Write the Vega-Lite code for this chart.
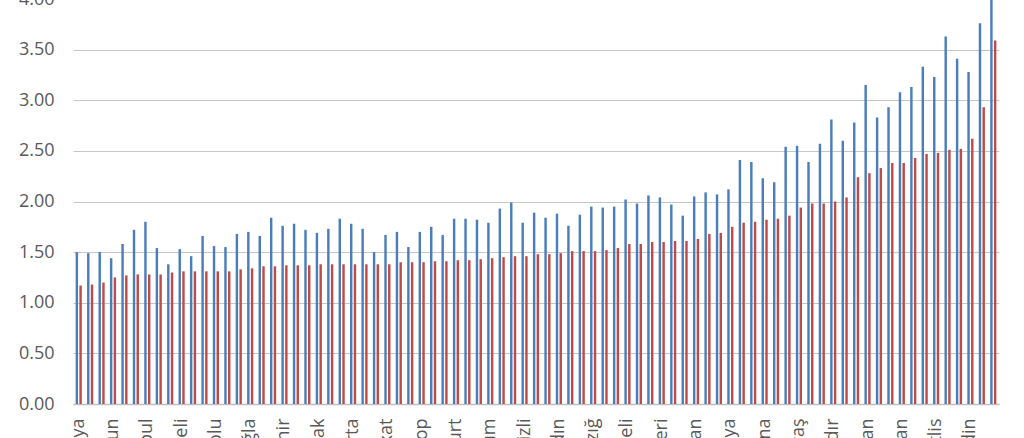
{
  "$schema": "https://vega.github.io/schema/vega-lite/v6.json",
  "autosize": {"type": "none"},
  "padding": {"left": 73, "top": -1, "right": 25, "bottom": 60},
  "width": 926,
  "height": 405,
  "background": "white",
  "config": {"view": {"stroke": null}, "font": "Open Sans"},
  "datasets": {
    "raw": [
      {"il": "Kütahya", "a": 1.50, "b": 1.17},
      {"il": "Bartın", "a": 1.49, "b": 1.18},
      {"il": "Zonguldak", "a": 1.50, "b": 1.20},
      {"il": "Giresun", "a": 1.44, "b": 1.25},
      {"il": "Karabük", "a": 1.58, "b": 1.27},
      {"il": "Edirne", "a": 1.72, "b": 1.28},
      {"il": "İstanbul", "a": 1.80, "b": 1.28},
      {"il": "Çanakkale", "a": 1.54, "b": 1.28},
      {"il": "Ordu", "a": 1.38, "b": 1.30},
      {"il": "Kırklareli", "a": 1.53, "b": 1.31},
      {"il": "Tekirdağ", "a": 1.46, "b": 1.31},
      {"il": "Balıkesir", "a": 1.66, "b": 1.31},
      {"il": "Bolu", "a": 1.56, "b": 1.31},
      {"il": "Amasya", "a": 1.55, "b": 1.31},
      {"il": "Trabzon", "a": 1.68, "b": 1.33},
      {"il": "Muğla", "a": 1.70, "b": 1.34},
      {"il": "Kastamonu", "a": 1.66, "b": 1.36},
      {"il": "Rize", "a": 1.84, "b": 1.36},
      {"il": "Eskişehir", "a": 1.76, "b": 1.37},
      {"il": "Artvin", "a": 1.78, "b": 1.37},
      {"il": "İzmir", "a": 1.72, "b": 1.37},
      {"il": "Uşak", "a": 1.69, "b": 1.38},
      {"il": "Sakarya", "a": 1.73, "b": 1.38},
      {"il": "Yalova", "a": 1.83, "b": 1.38},
      {"il": "Isparta", "a": 1.78, "b": 1.38},
      {"il": "Burdur", "a": 1.73, "b": 1.38},
      {"il": "Manisa", "a": 1.50, "b": 1.38},
      {"il": "Tokat", "a": 1.67, "b": 1.38},
      {"il": "Bilecik", "a": 1.70, "b": 1.40},
      {"il": "Düzce", "a": 1.55, "b": 1.40},
      {"il": "Sinop", "a": 1.70, "b": 1.40},
      {"il": "Samsun", "a": 1.75, "b": 1.41},
      {"il": "Kırşehir", "a": 1.67, "b": 1.41},
      {"il": "Bayburt", "a": 1.83, "b": 1.42},
      {"il": "Nevşehir", "a": 1.83, "b": 1.42},
      {"il": "Bursa", "a": 1.82, "b": 1.43},
      {"il": "Çorum", "a": 1.79, "b": 1.44},
      {"il": "Afyonkarahisar", "a": 1.93, "b": 1.45},
      {"il": "Antalya", "a": 1.99, "b": 1.46},
      {"il": "Denizli", "a": 1.79, "b": 1.46},
      {"il": "Gümüşhane", "a": 1.89, "b": 1.48},
      {"il": "Sivas", "a": 1.84, "b": 1.48},
      {"il": "Aydın", "a": 1.88, "b": 1.49},
      {"il": "Ankara", "a": 1.76, "b": 1.51},
      {"il": "Kırıkkale", "a": 1.87, "b": 1.51},
      {"il": "Elazığ", "a": 1.95, "b": 1.51},
      {"il": "Niğde", "a": 1.94, "b": 1.52},
      {"il": "Aksaray", "a": 1.95, "b": 1.54},
      {"il": "Kocaeli", "a": 2.02, "b": 1.58},
      {"il": "Erzincan", "a": 1.98, "b": 1.58},
      {"il": "Çankırı", "a": 2.06, "b": 1.60},
      {"il": "Kayseri", "a": 2.04, "b": 1.60},
      {"il": "Yozgat", "a": 1.97, "b": 1.61},
      {"il": "Hatay", "a": 1.86, "b": 1.61},
      {"il": "Karaman", "a": 2.05, "b": 1.63},
      {"il": "Mersin", "a": 2.09, "b": 1.68},
      {"il": "Osmaniye", "a": 2.07, "b": 1.69},
      {"il": "Konya", "a": 2.12, "b": 1.75},
      {"il": "Malatya", "a": 2.41, "b": 1.79},
      {"il": "Kilis", "a": 2.39, "b": 1.80},
      {"il": "Adana", "a": 2.23, "b": 1.82},
      {"il": "Kars", "a": 2.19, "b": 1.83},
      {"il": "Gaziantep", "a": 2.54, "b": 1.86},
      {"il": "Kahramanmaraş", "a": 2.55, "b": 1.94},
      {"il": "Erzurum", "a": 2.39, "b": 1.98},
      {"il": "Adıyaman", "a": 2.57, "b": 1.98},
      {"il": "Iğdır", "a": 2.81, "b": 2.00},
      {"il": "Bingöl", "a": 2.60, "b": 2.04},
      {"il": "Siirt", "a": 2.78, "b": 2.24},
      {"il": "Ardahan", "a": 3.15, "b": 2.28},
      {"il": "Hakkari", "a": 2.83, "b": 2.33},
      {"il": "Diyarbakır", "a": 2.93, "b": 2.38},
      {"il": "Batman", "a": 3.08, "b": 2.38},
      {"il": "Van", "a": 3.13, "b": 2.43},
      {"il": "Ağrı", "a": 3.33, "b": 2.47},
      {"il": "Bitlis", "a": 3.23, "b": 2.48},
      {"il": "Şırnak", "a": 3.63, "b": 2.51},
      {"il": "Muş", "a": 3.41, "b": 2.52},
      {"il": "Mardin", "a": 3.28, "b": 2.62},
      {"il": "Tunceli", "a": 3.76, "b": 2.93},
      {"il": "Şanlıurfa", "a": 4.10, "b": 3.59}
    ]
  },
  "data": {"name": "raw"},
  "transform": [{"fold": ["a", "b"], "as": ["seri", "deger"]}],
  "mark": {"type": "bar", "clip": true},
  "encoding": {
    "x": {
      "field": "il",
      "type": "nominal",
      "sort": null,
      "scale": {"paddingInner": 0.46, "paddingOuter": 0.23},
      "axis": {
        "title": null,
        "values": ["Kütahya", "Giresun", "İstanbul", "Kırklareli", "Bolu", "Muğla", "Eskişehir", "Uşak", "Isparta", "Tokat", "Sinop", "Bayburt", "Çorum", "Denizli", "Aydın", "Elazığ", "Kocaeli", "Kayseri", "Karaman", "Konya", "Adana", "Kahramanmaraş", "Iğdır", "Ardahan", "Batman", "Bitlis", "Mardin"],
        "labelAngle": -90,
        "labelFontSize": 18,
        "labelColor": "#595959",
        "labelPadding": 14,
        "ticks": false,
        "domain": true,
        "domainColor": "#bfbfbf",
        "domainWidth": 1.5,
        "grid": false
      }
    },
    "xOffset": {"field": "seri", "type": "nominal", "scale": {"paddingInner": 0.35}},
    "y": {
      "field": "deger",
      "type": "quantitative",
      "scale": {"domain": [0, 4], "nice": false},
      "axis": {
        "title": null,
        "values": [0, 0.5, 1, 1.5, 2, 2.5, 3, 3.5, 4],
        "format": ".2f",
        "labelFontSize": 18,
        "labelColor": "#595959",
        "labelPadding": 19,
        "ticks": false,
        "domain": false,
        "grid": true,
        "gridColor": "#c6c6c6",
        "gridWidth": 1.2
      }
    },
    "color": {
      "field": "seri",
      "type": "nominal",
      "scale": {"domain": ["a", "b"], "range": ["#4a7ebb", "#be4b48"]},
      "legend": null
    }
  }
}
